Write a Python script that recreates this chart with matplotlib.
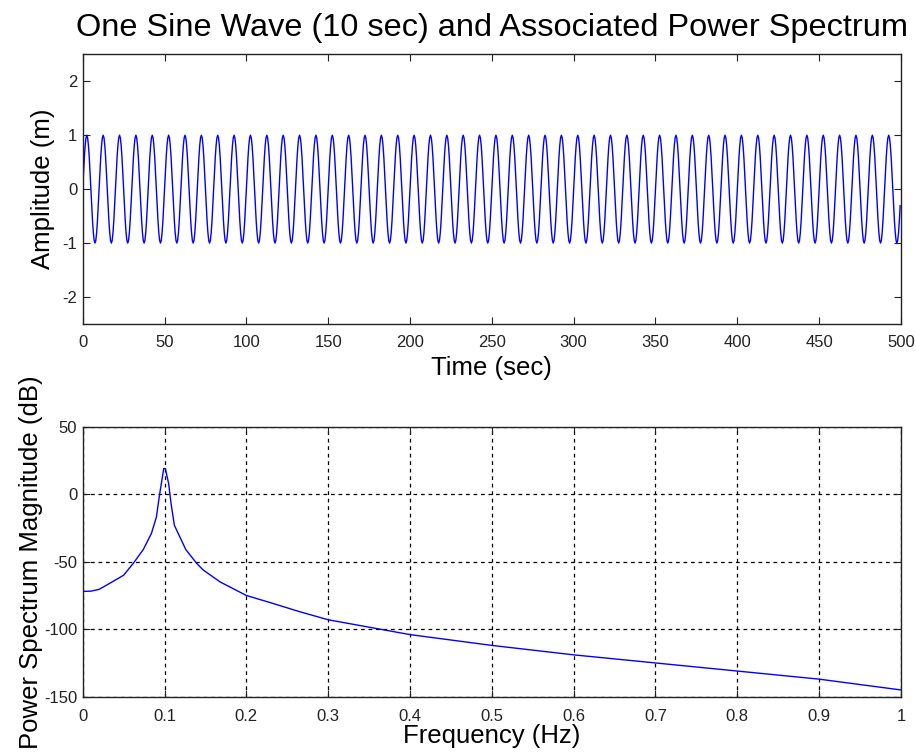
import numpy as np
import matplotlib
matplotlib.use('Agg')
import matplotlib.pyplot as plt

plt.rcParams['font.family'] = ['Liberation Sans', 'DejaVu Sans']
plt.rcParams['axes.unicode_minus'] = False

period = 10.0
amplitude = 1.0
fs = 2.0
duration = 500.0

# power spectrum
freq = [0.0, 0.01, 0.02, 0.033, 0.05, 0.062, 0.074, 0.084, 0.09, 0.094, 0.099,
        0.101, 0.105, 0.108, 0.112, 0.126, 0.139, 0.147, 0.168, 0.2, 0.233,
        0.265, 0.3, 0.4, 0.5, 0.6, 0.7, 0.8, 0.9, 1.0]
power_db = [-72, -71.8, -70.5, -66, -60, -51, -41, -29, -17, 0, 19,
            19, 8, -7, -23, -41, -51, -56, -65, -75, -81,
            -87, -93, -104, -112, -119, -125, -131, -137, -145]

time_ticks = np.arange(0, 501, 50)
amp_ticks = [-2, -1, 0, 1, 2]
freq_ticks = np.round(np.arange(0, 1.01, 0.1), 1)
freq_labels = ['0', '0.1', '0.2', '0.3', '0.4', '0.5', '0.6', '0.7', '0.8', '0.9', '1']
db_ticks = [-150, -100, -50, 0, 50]

t = np.arange(0, duration, 1 / fs)
x = amplitude * np.sin(2 * np.pi * t / period)

fig = plt.figure(figsize=(9.16, 7.54), dpi=100)
ax1 = fig.add_axes([0.0903, 0.5703, 0.8933, 0.3577])
ax2 = fig.add_axes([0.0903, 0.076, 0.8933, 0.358])

tick_kw = dict(direction='in', top=True, right=True, length=5, width=0.8,
               labelsize=12, labelcolor='#222222', color='#222222')

ax1.plot(t, x, color='blue', lw=1)
ax1.set_xlim(0, 500)
ax1.set_ylim(-2.5, 2.5)
ax1.set_xticks(time_ticks)
ax1.set_yticks(amp_ticks)
ax1.tick_params(**tick_kw)
ax1.tick_params(axis='x', pad=8)
ax1.tick_params(axis='y', pad=4)
ax1.set_xlabel('Time (sec)', fontsize=18.5, labelpad=4.5)
ax1.set_ylabel('Amplitude (m)', fontsize=18.5, labelpad=5)
ax1.set_title('One Sine Wave (10 sec) and Associated Power Spectrum',
              fontsize=23.4, pad=13)

ax2.plot(freq, power_db, color='blue', lw=1)
ax2.set_xlim(0, 1)
ax2.set_ylim(-150, 50)
ax2.set_xticks(freq_ticks)
ax2.set_xticklabels(freq_labels)
ax2.set_yticks(db_ticks)
ax2.tick_params(**tick_kw)
ax2.tick_params(axis='x', pad=9)
ax2.tick_params(axis='y', pad=4)
ax2.grid(True, color='black', linestyle=(0, (3, 3)), linewidth=0.9)
ax2.set_xlabel('Frequency (Hz)', fontsize=18.5, labelpad=0)
ax2.set_ylabel('Power Spectrum Magnitude (dB)', fontsize=18.5, labelpad=1)

for ax in (ax1, ax2):
    for s in ax.spines.values():
        s.set_color('#222222')
        s.set_linewidth(1.0)

fig.savefig('out.png', dpi=100)
